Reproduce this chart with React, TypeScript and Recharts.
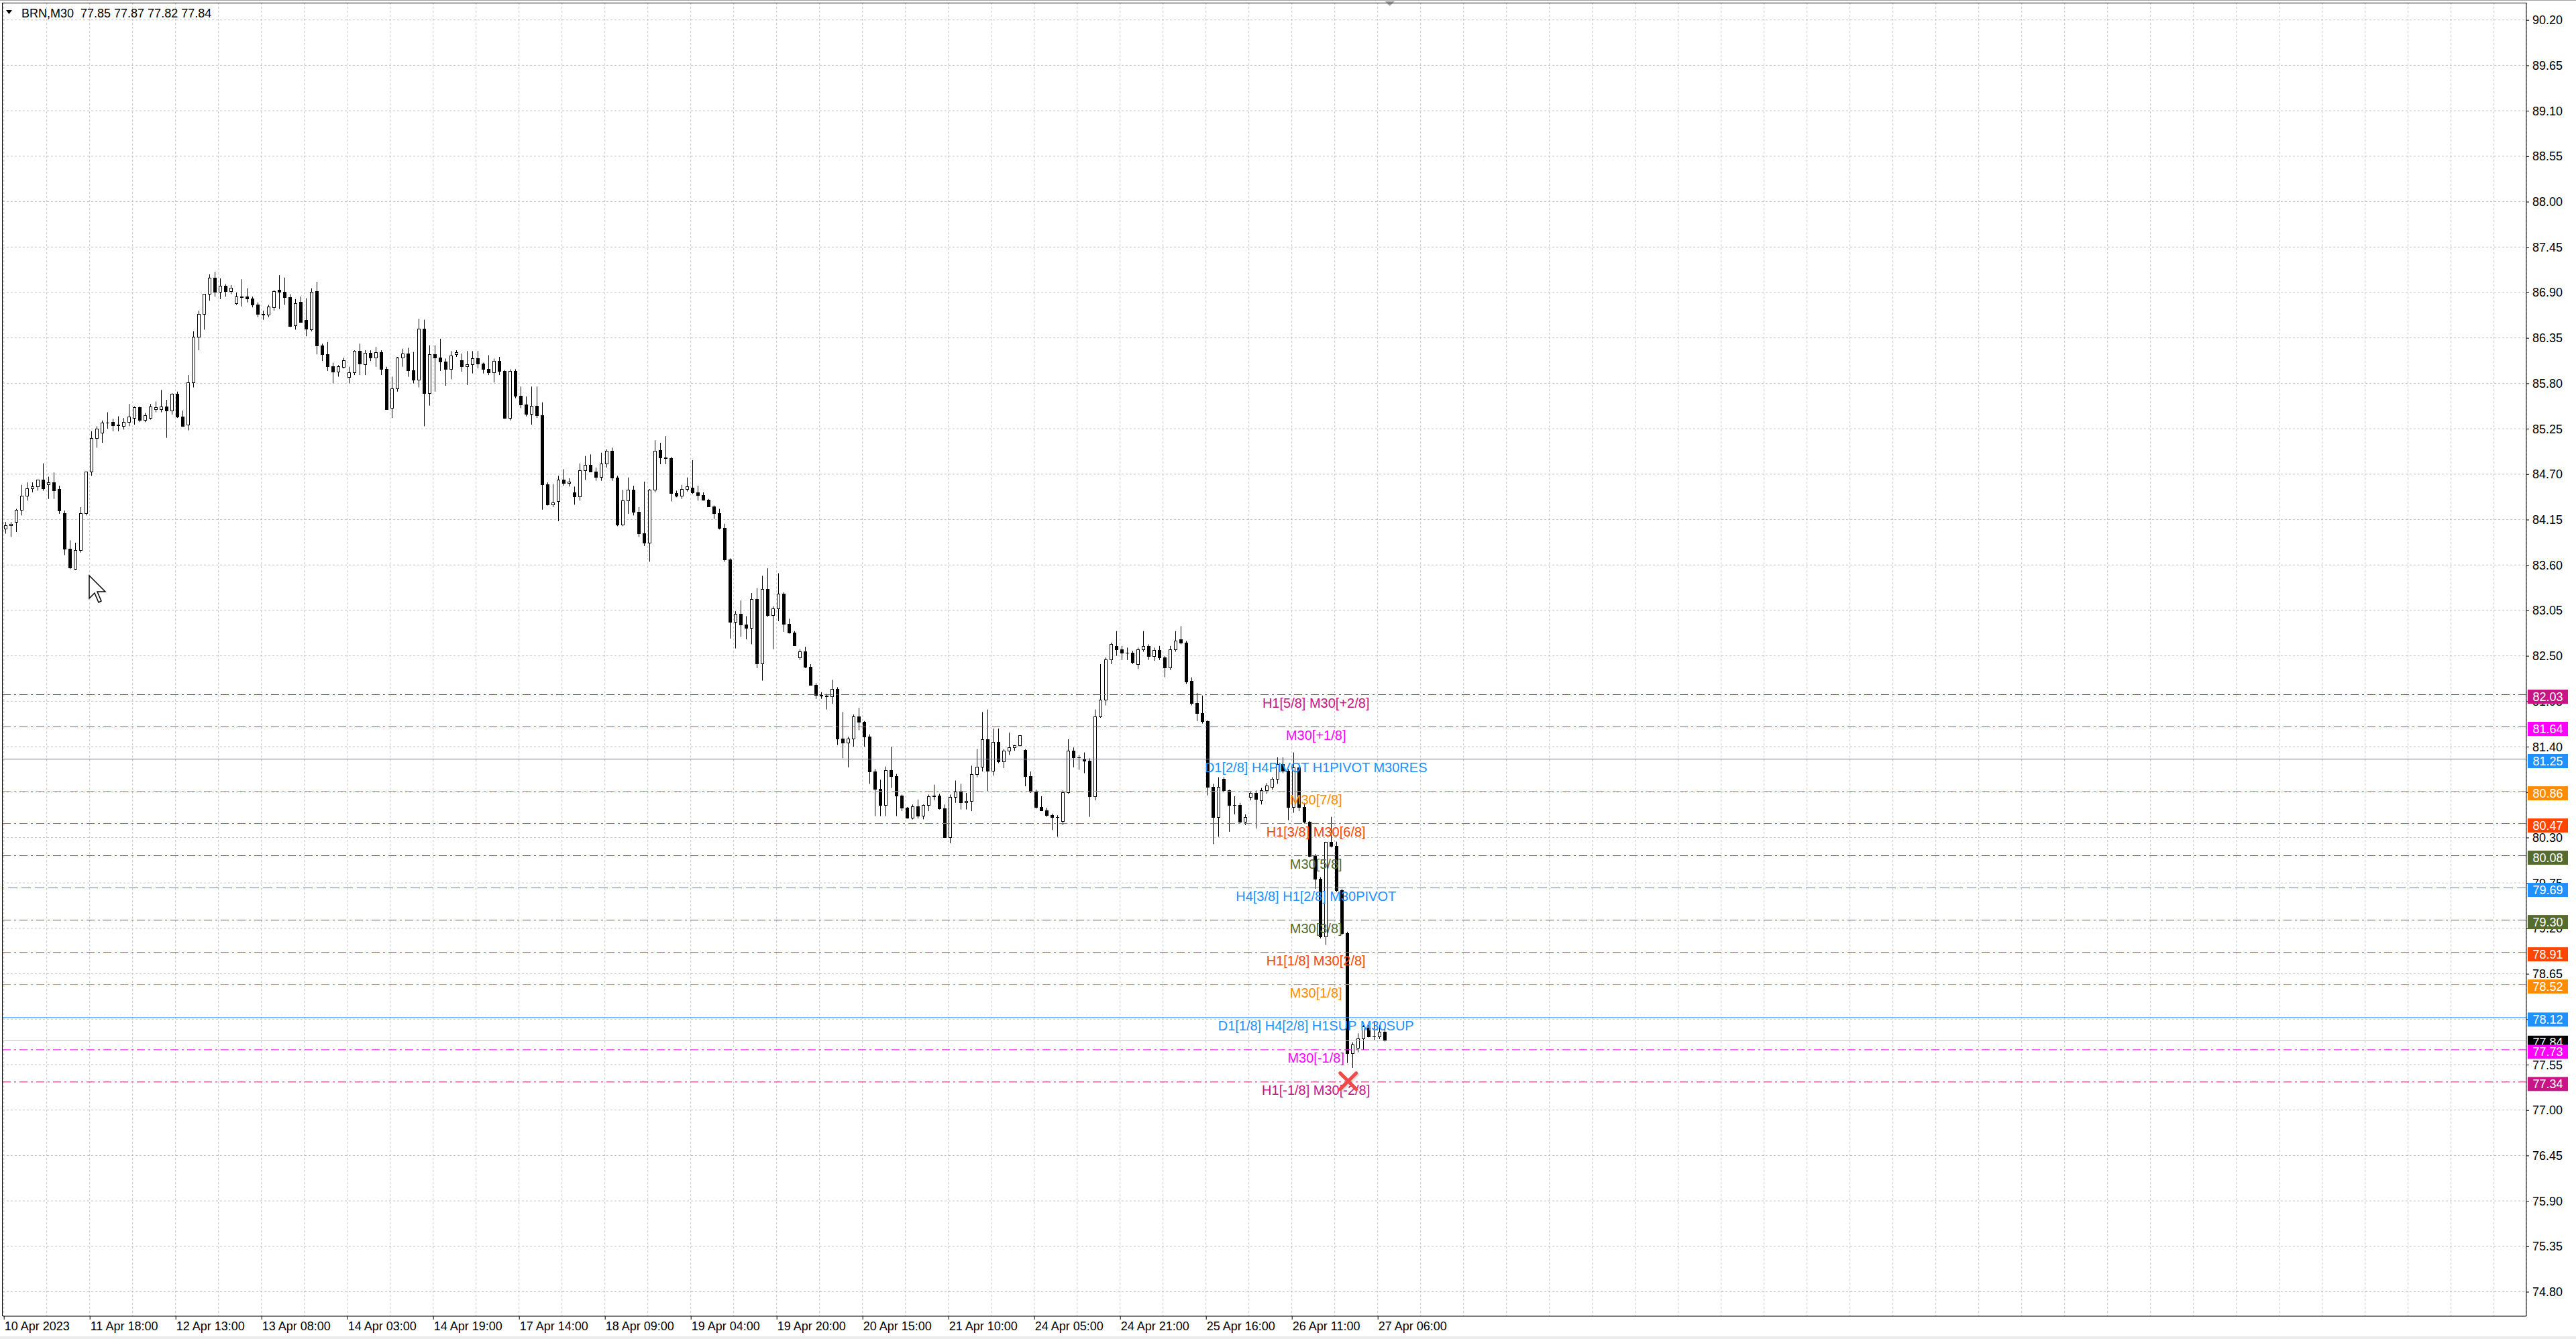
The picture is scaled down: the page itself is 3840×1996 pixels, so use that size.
import React from 'react';
import {
  ComposedChart,
  Bar,
  Scatter,
  XAxis,
  YAxis,
  CartesianGrid,
  ReferenceLine,
  ReferenceDot,
} from 'recharts';

// time axis labels, one every 32 M30 bars
const tickLabels = [
  '10 Apr 2023', '11 Apr 18:00', '12 Apr 13:00', '13 Apr 08:00', '14 Apr 03:00', '14 Apr 19:00',
  '17 Apr 14:00', '18 Apr 09:00', '19 Apr 04:00', '19 Apr 20:00', '20 Apr 15:00', '21 Apr 10:00',
  '24 Apr 05:00', '24 Apr 21:00', '25 Apr 16:00', '26 Apr 11:00', '27 Apr 06:00',
];

const priceTicks = [
  74.8, 75.35, 75.9, 76.45, 77.0, 77.55, 78.1, 78.65, 79.2, 79.75, 80.3, 80.85, 81.4, 81.95, 82.5,
  83.05, 83.6, 84.15, 84.7, 85.25, 85.8, 86.35, 86.9, 87.45, 88.0, 88.55, 89.1, 89.65, 90.2,
];

// hourly candles [open, high, low, close], 16 per label interval
const seg00 = [
  [84.04, 84.12, 83.98, 84.08], [84.08, 84.12, 83.94, 84.1], [84.12, 84.28, 84.0, 84.27], [84.27, 84.57, 84.2, 84.44],
  [84.44, 84.6, 84.38, 84.53], [84.53, 84.6, 84.48, 84.55], [84.55, 84.63, 84.5, 84.63], [84.63, 84.83, 84.5, 84.53],
  [84.58, 84.67, 84.4, 84.6], [84.6, 84.72, 84.4, 84.5], [84.52, 84.56, 84.22, 84.26], [84.23, 84.26, 83.72, 83.8],
  [83.8, 83.9, 83.55, 83.57], [83.55, 83.87, 83.54, 83.78], [83.78, 84.3, 83.75, 84.23], [84.23, 84.73, 84.2, 84.73],
];
const seg01 = [
  [84.73, 85.22, 84.68, 85.14], [85.14, 85.28, 85.02, 85.25], [85.2, 85.35, 85.08, 85.32], [85.32, 85.45, 85.25, 85.32],
  [85.33, 85.37, 85.22, 85.29], [85.29, 85.4, 85.22, 85.3], [85.28, 85.38, 85.24, 85.33], [85.33, 85.55, 85.28, 85.4],
  [85.38, 85.52, 85.3, 85.51], [85.51, 85.52, 85.33, 85.36], [85.36, 85.44, 85.33, 85.41], [85.38, 85.55, 85.36, 85.52],
  [85.49, 85.58, 85.45, 85.51], [85.49, 85.72, 85.45, 85.52], [85.52, 85.6, 85.14, 85.47], [85.47, 85.68, 85.42, 85.67],
];
const seg02 = [
  [85.67, 85.7, 85.38, 85.4], [85.4, 85.47, 85.28, 85.28], [85.3, 85.9, 85.23, 85.81], [85.81, 86.43, 85.75, 86.36],
  [86.36, 86.68, 86.2, 86.64], [86.64, 86.88, 86.45, 86.88], [86.88, 87.12, 86.8, 87.08], [87.08, 87.15, 86.85, 86.91],
  [86.91, 87.07, 86.82, 86.98], [86.98, 87.0, 86.85, 86.92], [86.92, 86.99, 86.88, 86.96], [86.77, 86.9, 86.75, 86.85],
  [86.84, 87.06, 86.73, 86.85], [86.85, 86.95, 86.78, 86.83], [86.83, 86.85, 86.72, 86.75], [86.75, 86.78, 86.6, 86.64],
];
const seg03 = [
  [86.64, 86.68, 86.57, 86.63], [86.63, 86.75, 86.6, 86.73], [86.72, 86.93, 86.68, 86.92], [86.93, 87.11, 86.7, 86.91],
  [86.91, 87.08, 86.75, 86.84], [86.84, 86.88, 86.48, 86.49], [86.5, 86.82, 86.45, 86.77], [86.79, 86.85, 86.55, 86.54],
  [86.57, 86.83, 86.37, 86.46], [86.45, 86.95, 86.43, 86.91], [86.92, 87.03, 86.15, 86.26], [86.26, 86.28, 86.07, 86.15],
  [86.15, 86.3, 85.95, 86.01], [86.01, 86.05, 85.8, 85.94], [85.94, 86.02, 85.88, 86.01], [86.0, 86.11, 85.98, 86.08],
];
const seg04 = [
  [85.88, 86.0, 85.8, 85.93], [85.93, 86.2, 85.9, 86.19], [86.19, 86.28, 85.9, 86.04], [86.03, 86.2, 85.9, 86.17],
  [86.17, 86.2, 86.07, 86.11], [86.11, 86.24, 86.0, 86.18], [86.18, 86.2, 85.9, 85.97], [85.97, 86.0, 85.48, 85.49],
  [85.5, 85.88, 85.38, 85.74], [85.74, 86.12, 85.7, 86.11], [86.11, 86.22, 86.0, 86.16], [86.16, 86.23, 85.88, 85.96],
  [85.96, 86.18, 85.8, 85.84], [85.84, 86.58, 85.75, 86.46], [86.46, 86.57, 85.28, 85.68], [85.68, 86.26, 85.53, 86.15],
];
const seg05 = [
  [86.15, 86.26, 85.7, 86.11], [86.11, 86.34, 85.95, 86.06], [86.06, 86.1, 85.77, 85.97], [85.97, 86.19, 85.85, 86.14],
  [86.15, 86.2, 86.12, 86.18], [86.08, 86.16, 85.94, 86.01], [86.01, 86.19, 85.78, 86.03], [86.03, 86.19, 85.92, 86.1],
  [86.1, 86.19, 85.98, 86.04], [86.04, 86.05, 85.92, 85.97], [85.97, 86.14, 85.9, 85.93], [85.93, 86.1, 85.81, 86.07],
  [86.07, 86.12, 85.9, 85.95], [85.95, 85.96, 85.37, 85.38], [85.38, 85.97, 85.35, 85.95], [85.95, 85.97, 85.62, 85.65],
];
const seg06 = [
  [85.65, 85.76, 85.5, 85.54], [85.54, 85.64, 85.4, 85.43], [85.43, 85.76, 85.3, 85.53], [85.53, 85.76, 85.38, 85.41],
  [85.41, 85.57, 84.27, 84.58], [84.58, 84.6, 84.32, 84.33], [84.33, 84.58, 84.3, 84.36], [84.37, 84.68, 84.13, 84.63],
  [84.63, 84.76, 84.56, 84.59], [84.59, 84.65, 84.55, 84.61], [84.48, 84.55, 84.33, 84.43], [84.43, 84.83, 84.38, 84.75],
  [84.75, 84.92, 84.63, 84.81], [84.81, 84.94, 84.73, 84.73], [84.73, 84.78, 84.62, 84.67], [84.67, 84.96, 84.62, 84.83],
];
const seg07 = [
  [84.83, 85.0, 84.78, 84.98], [84.98, 85.02, 84.62, 84.66], [84.66, 84.68, 84.07, 84.09], [84.09, 84.51, 84.07, 84.38],
  [84.38, 84.66, 84.22, 84.51], [84.51, 84.56, 84.2, 84.24], [84.24, 84.3, 83.94, 83.98], [83.98, 84.61, 83.83, 83.87],
  [83.87, 84.52, 83.64, 84.51], [84.51, 85.11, 84.48, 84.98], [84.99, 85.08, 84.82, 84.9], [84.9, 85.16, 84.82, 84.89],
  [84.89, 84.91, 84.37, 84.47], [84.47, 84.5, 84.42, 84.44], [84.44, 84.57, 84.4, 84.52], [84.52, 84.66, 84.49, 84.55],
];
const seg08 = [
  [84.54, 84.87, 84.46, 84.48], [84.48, 84.56, 84.38, 84.45], [84.45, 84.48, 84.38, 84.39], [84.39, 84.4, 84.31, 84.31],
  [84.31, 84.32, 84.16, 84.23], [84.23, 84.28, 84.03, 84.05], [84.05, 84.1, 83.64, 83.67], [83.67, 83.68, 82.71, 82.91],
  [82.91, 83.04, 82.59, 83.01], [83.01, 83.17, 82.73, 82.88], [82.88, 82.98, 82.7, 82.84], [82.84, 83.26, 82.64, 83.19],
  [83.19, 83.32, 82.35, 82.41], [82.41, 83.47, 82.2, 83.31], [83.31, 83.56, 82.97, 82.99], [82.99, 83.1, 82.58, 83.07],
];
const seg09 = [
  [83.07, 83.5, 82.92, 83.25], [83.25, 83.27, 82.79, 82.89], [82.89, 82.95, 82.77, 82.78], [82.78, 82.8, 82.62, 82.63],
  [82.48, 82.58, 82.45, 82.55], [82.55, 82.61, 82.35, 82.37], [82.37, 82.4, 82.14, 82.15], [82.15, 82.17, 81.98, 82.03],
  [82.03, 82.06, 81.98, 82.02], [82.02, 82.04, 81.85, 82.01], [82.01, 82.21, 81.92, 82.1], [82.1, 82.12, 81.42, 81.5],
  [81.5, 81.82, 81.26, 81.45], [81.45, 81.52, 81.15, 81.5], [81.5, 81.79, 81.4, 81.77], [81.77, 81.87, 81.6, 81.7],
];
const seg10 = [
  [81.7, 81.71, 81.4, 81.52], [81.52, 81.55, 80.95, 81.1], [81.1, 81.13, 80.56, 80.89], [80.89, 81.0, 80.56, 80.69],
  [80.69, 81.16, 80.56, 81.12], [81.12, 81.4, 80.9, 81.04], [81.04, 81.07, 80.56, 80.81], [80.81, 80.82, 80.62, 80.66],
  [80.66, 80.67, 80.53, 80.54], [80.54, 80.7, 80.52, 80.68], [80.68, 80.76, 80.53, 80.56], [80.56, 80.7, 80.52, 80.69],
  [80.69, 80.82, 80.62, 80.8], [80.8, 80.94, 80.75, 80.81], [80.81, 80.83, 80.64, 80.65], [80.65, 80.7, 80.3, 80.3],
];
const seg11 = [
  [80.3, 80.82, 80.23, 80.79], [80.79, 80.99, 80.72, 80.86], [80.86, 80.95, 80.64, 80.73], [80.73, 80.84, 80.64, 80.74],
  [80.74, 81.17, 80.62, 81.07], [81.07, 81.37, 81.03, 81.16], [81.16, 81.82, 81.1, 81.49], [81.49, 81.85, 80.86, 81.11],
  [81.11, 81.62, 81.05, 81.46], [81.46, 81.62, 81.2, 81.22], [81.22, 81.37, 81.14, 81.35], [81.35, 81.57, 81.3, 81.39],
  [81.39, 81.42, 81.35, 81.42], [81.42, 81.54, 81.4, 81.54], [81.36, 81.37, 80.92, 81.04], [81.04, 81.1, 80.84, 80.86],
];
const seg12 = [
  [80.86, 80.88, 80.65, 80.67], [80.67, 80.8, 80.62, 80.63], [80.63, 80.66, 80.55, 80.57], [80.57, 80.59, 80.39, 80.55],
  [80.55, 80.57, 80.31, 80.55], [80.5, 80.87, 80.45, 80.85], [80.85, 81.49, 80.83, 81.35], [81.35, 81.39, 81.15, 81.27],
  [81.27, 81.3, 81.12, 81.27], [81.25, 81.33, 81.08, 81.23], [81.23, 81.26, 80.55, 80.8], [80.8, 81.85, 80.75, 81.77],
  [81.77, 82.4, 81.75, 81.97], [81.97, 82.48, 81.9, 82.46], [82.46, 82.66, 82.4, 82.64], [82.62, 82.8, 82.5, 82.58],
];
const seg13 = [
  [82.58, 82.62, 82.45, 82.54], [82.54, 82.6, 82.45, 82.54], [82.54, 82.56, 82.4, 82.42], [82.4, 82.6, 82.34, 82.58],
  [82.58, 82.8, 82.55, 82.62], [82.62, 82.64, 82.45, 82.5], [82.5, 82.6, 82.44, 82.57], [82.57, 82.62, 82.45, 82.48],
  [82.48, 82.5, 82.24, 82.36], [82.36, 82.62, 82.33, 82.58], [82.58, 82.8, 82.55, 82.68], [82.7, 82.86, 82.64, 82.66],
  [82.66, 82.68, 82.16, 82.19], [82.2, 82.24, 81.9, 81.93], [81.93, 82.05, 81.71, 81.81], [81.81, 82.02, 81.68, 81.71],
];
const seg14 = [
  [81.71, 81.72, 80.81, 80.91], [80.91, 80.95, 80.22, 80.55], [80.55, 81.03, 80.31, 80.91], [81.01, 81.03, 80.85, 80.87],
  [80.87, 80.88, 80.37, 80.69], [80.69, 80.8, 80.58, 80.69], [80.69, 80.72, 80.47, 80.49], [80.49, 80.58, 80.45, 80.55],
  [80.79, 80.86, 80.75, 80.84], [80.84, 80.87, 80.41, 80.77], [80.75, 80.9, 80.7, 80.87], [80.87, 80.96, 80.83, 80.93],
  [80.91, 81.03, 80.88, 81.01], [81.01, 81.27, 80.95, 81.19], [81.19, 81.27, 81.08, 81.11], [81.11, 81.13, 80.51, 80.67],
];
const seg15 = [
  [80.67, 81.33, 80.6, 81.15], [81.15, 81.2, 80.62, 80.67], [80.67, 80.72, 80.47, 80.49], [80.49, 80.5, 80.06, 80.08],
  [80.08, 80.1, 79.68, 79.8], [79.8, 79.82, 79.08, 79.1], [79.1, 80.25, 79.0, 80.25], [80.25, 80.55, 80.18, 80.2],
  [80.2, 80.25, 79.64, 79.66], [79.66, 79.68, 79.12, 79.14], [79.14, 79.16, 77.57, 77.69], [77.69, 77.82, 77.51, 77.79],
  [77.75, 77.93, 77.7, 77.87], [77.87, 78.03, 77.73, 78.01], [78.0, 78.03, 77.88, 77.89], [77.89, 78.07, 77.85, 77.89],
];
const seg16 = [
  [77.89, 78.03, 77.86, 77.95], [77.95, 77.99, 77.83, 77.84],
];
const segments = [seg00, seg01, seg02, seg03, seg04, seg05, seg06, seg07, seg08, seg09, seg10, seg11, seg12, seg13, seg14, seg15, seg16];

// murrey math levels
const levelPrices = [82.03, 81.64, 81.25, 80.86, 80.47, 80.08, 79.69, 79.3, 78.91, 78.52, 78.12, 77.73, 77.34];
const levelNames = [
  'H1[5/8] M30[+2/8]', 'M30[+1/8]', 'D1[2/8] H4PIVOT H1PIVOT M30RES', 'M30[7/8]', 'H1[3/8] M30[6/8]',
  'M30[5/8]', 'H4[3/8] H1[2/8] M30PIVOT', 'M30[3/8]', 'H1[1/8] M30[2/8]', 'M30[1/8]',
  'D1[1/8] H4[2/8] H1SUP M30SUP', 'M30[-1/8]', 'H1[-1/8] M30[-2/8]',
];
const levelColors = [
  '#C71585', '#FF00FF', '#1E90FF', '#FF8C00', '#FF4500', '#556B2F', '#1E90FF',
  '#556B2F', '#FF4500', '#FF8C00', '#1E90FF', '#FF00FF', '#C71585',
];
const levelStyles = [
  'dashdot', 'dashdot', 'solid', 'dashdot', 'dashdot', 'dashdot', 'dash',
  'dashdot', 'dashdot', 'dashdot', 'solid', 'dashdot', 'dashdot',
];

const symbolLine = 'BRN,M30  77.85 77.87 77.82 77.84';
const lastPrice = 77.84;
const signalPrice = 77.35;
const signalBar = 501;
const labelBar = 489;
const shiftBar = 516.5;

const W = 3840;
const H = 1996;
const FONT = '"Liberation Sans", Arial, sans-serif';
const Y_MIN = 74.504;
const Y_MAX = 90.409;

const candles = segments.flat().map((v, j) => ({
  k: 2 * j + 0.5,
  o: v[0],
  h: v[1],
  l: v[2],
  c: v[3],
  range: [v[2], v[1]],
}));

const xTicks = Array.from({ length: 59 }, (_, i) => i * 16);
const tagPrices = [lastPrice, ...levelPrices];
// scale labels first, coloured tags last so the tags paint over them
const axisTicks = [...priceTicks, ...tagPrices];

const labelPoints = levelPrices.map((p, i) => ({ k: labelBar, p, i }));
const signalPoints = [{ k: signalBar, p: signalPrice }];

const dashFor = (s: string) => (s === 'dashdot' ? '12 5 3 5' : s === 'dash' ? '14 6' : undefined);

const Candle = (props: any) => {
  const { x, y, width, height, payload } = props;
  if (payload == null || x == null || y == null) return null;
  const { o, h, l, c } = payload;
  const px = Math.round(x + width / 2);
  const span = h - l;
  const ppu = span > 0 ? height / span : 0;
  const yOf = (v: number) => y + (h - v) * ppu;
  const top = Math.round(yOf(Math.max(o, c)));
  const bot = Math.round(yOf(Math.min(o, c)));
  const bear = c < o;
  return (
    <g>
      <line x1={px + 0.5} x2={px + 0.5} y1={y} y2={y + Math.max(height, 1)} stroke="#000" strokeWidth={1} />
      {bot - top < 1 ? (
        <line x1={px - 2} x2={px + 3} y1={top + 0.5} y2={top + 0.5} stroke="#000" strokeWidth={1} />
      ) : (
        <rect
          x={px - 1.5}
          y={top + 0.5}
          width={4}
          height={bot - top}
          fill={bear ? '#000' : '#fff'}
          stroke="#000"
          strokeWidth={1}
        />
      )}
    </g>
  );
};

const TimeTick = (props: any) => {
  const { x, y, payload } = props;
  const m = payload.value / 32;
  const label = Number.isInteger(m) ? tickLabels[m] : undefined;
  if (!label) return null;
  return (
    <g>
      <line x1={x + 0.5} x2={x + 0.5} y1={y} y2={y + 5} stroke="#000" />
      <text x={x + 1} y={y + 21} fontSize={18} fontFamily={FONT} fill="#000">
        {label}
      </text>
    </g>
  );
};

const PriceTick = (props: any) => {
  const { x, y, payload, index } = props;
  const v = payload.value;
  if (index >= priceTicks.length) {
    // level / last price tag
    const i = levelPrices.indexOf(v);
    const color = i >= 0 ? levelColors[i] : '#000';
    return (
      <g>
        <rect x={x + 2} y={y - 7.5} width={60} height={21} fill={color} />
        <text x={x + 32} y={y + 9} textAnchor="middle" fontSize={18} fontFamily={FONT} fill="#fff">
          {v.toFixed(2)}
        </text>
      </g>
    );
  }
  // a scale label hidden completely under a tag is left out
  const covered = tagPrices.some((p) => Math.abs(p - v) < 0.035);
  return (
    <g>
      <line x1={x} x2={x + 4} y1={y + 0.5} y2={y + 0.5} stroke="#000" />
      {!covered && (
        <text x={x + 9} y={y + 6.5} fontSize={18} fontFamily={FONT} fill="#000">
          {v.toFixed(2)}
        </text>
      )}
    </g>
  );
};

const LevelLabel = (props: any) => {
  const { cx, cy, payload } = props;
  if (cx == null || cy == null) return null;
  return (
    <text
      x={cx}
      y={cy + 19}
      textAnchor="middle"
      fontSize={20}
      fontFamily={FONT}
      fill={levelColors[payload.i]}
    >
      {levelNames[payload.i]}
    </text>
  );
};

const SignalCross = (props: any) => {
  const { cx, cy } = props;
  if (cx == null || cy == null) return null;
  const d = 12;
  return (
    <g>
      <g stroke="#bbbbbb" strokeWidth={5} strokeLinecap="round" opacity={0.5} transform="translate(2,2)">
        <line x1={cx - d} y1={cy - d} x2={cx + d} y2={cy + d} />
        <line x1={cx - d} y1={cy + d} x2={cx + d} y2={cy - d} />
      </g>
      <g stroke="#F24848" strokeWidth={5} strokeLinecap="round">
        <line x1={cx - d} y1={cy - d} x2={cx + d} y2={cy + d} />
        <line x1={cx - d} y1={cy + d} x2={cx + d} y2={cy - d} />
      </g>
    </g>
  );
};

const ShiftMark = (props: any) => {
  const { cx, cy } = props;
  if (cx == null || cy == null) return null;
  return <polygon points={`${cx - 7},${cy - 2} ${cx + 7},${cy - 2} ${cx},${cy + 5}`} fill="#a8a8a8" />;
};

export default function App() {
  return (
    <div style={{ position: 'absolute', left: 0, top: 0, width: W, height: H, background: '#fff', overflow: 'hidden' }}>
      <ComposedChart
        width={W}
        height={H}
        data={candles}
        margin={{ top: 4, right: 0, bottom: 0, left: 4 }}
      >
        <CartesianGrid stroke="#c4c4c4" strokeDasharray="3 3" horizontalValues={priceTicks} />
        <XAxis
          dataKey="k"
          type="number"
          domain={[-0.425, 940.075]}
          ticks={xTicks}
          interval={0}
          height={34}
          axisLine={{ stroke: '#000' }}
          tickLine={false}
          tickSize={0}
          tickMargin={0}
          tick={<TimeTick />}
        />
        <YAxis
          orientation="right"
          type="number"
          domain={[Y_MIN, Y_MAX]}
          ticks={axisTicks}
          interval={0}
          width={74}
          axisLine={{ stroke: '#000' }}
          tickLine={false}
          tickSize={0}
          tickMargin={0}
          tick={<PriceTick />}
        />
        <ReferenceLine y={lastPrice} stroke="#c0c0c0" strokeWidth={1} />
        {levelPrices.map((p, i) => (
          <ReferenceLine
            key={p}
            y={p}
            stroke={levelColors[i]}
            strokeWidth={1}
            strokeDasharray={dashFor(levelStyles[i])}
          />
        ))}
        <Bar dataKey="range" barSize={6} shape={<Candle />} isAnimationActive={false} />
        <Scatter data={labelPoints} dataKey="p" shape={<LevelLabel />} isAnimationActive={false} />
        <Scatter data={signalPoints} dataKey="p" shape={<SignalCross />} isAnimationActive={false} />
        <ReferenceDot x={shiftBar} y={Y_MAX} r={0} shape={<ShiftMark />} />
      </ComposedChart>
      <svg
        width={W}
        height={H}
        style={{ position: 'absolute', left: 0, top: 0, pointerEvents: 'none' }}
      >
        <line x1={0} x2={W} y1={0.5} y2={0.5} stroke="#a0a0a0" />
        <line x1={3.5} x2={3.5} y1={4} y2={1962} stroke="#000" />
        <line x1={3} x2={3766} y1={4.5} y2={4.5} stroke="#000" />
        <rect x={0} y={1992} width={W} height={4} fill="#ececec" />
        <polygon points="9,15 18,15 13.5,21" fill="#000" />
        <text x={32} y={26} fontSize={18} fontFamily={FONT} fill="#000" style={{ whiteSpace: 'pre' }}>
          {symbolLine}
        </text>
        <polygon
          points="133,858 133,892 141,884 147,898 151,896 145,882 157,882"
          fill="#fff"
          stroke="#000"
          strokeWidth={1.5}
        />
      </svg>
    </div>
  );
}
